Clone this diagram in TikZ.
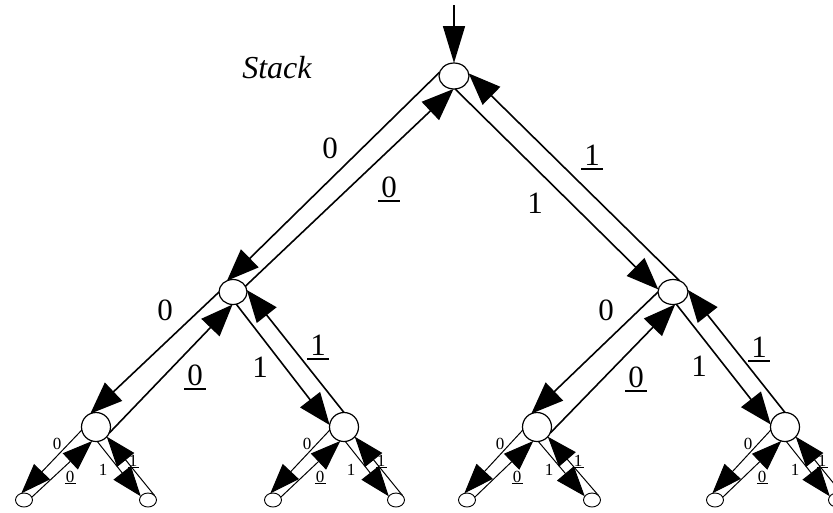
\documentclass[tikz,border=0pt]{standalone}
\usepackage{fontspec}
\setmainfont{Liberation Serif}
\usetikzlibrary{shapes.geometric,arrows.meta}
\newcommand{\ulbig}[1]{\setbox0\hbox{#1}\leavevmode\rlap{\kern-3pt\vrule width \dimexpr\wd0+6pt\relax height -3pt depth 4.5pt}\box0}
\newcommand{\ulsmall}[1]{\setbox0\hbox{#1}\leavevmode\rlap{\kern-1pt\vrule width \dimexpr\wd0+3pt\relax height -1pt depth 2pt}\box0}
\tikzset{
  nd/.style={draw, ellipse, line width=1.2pt, fill=white, inner sep=0pt, outer sep=0pt},
  lvl/.style={nd, minimum width=29pt, minimum height=29pt},
  lf/.style={nd, line width=0.9pt, minimum width=17pt, minimum height=14pt},
  thk/.style={line width=1.6pt, -{Triangle[length=32pt,width=25pt]}},
  thn/.style={line width=1pt, -{Triangle[length=30pt,width=22pt]}},
  lbl/.style={anchor=base, inner sep=0pt, font=\fontsize{31}{37}\selectfont},
  slbl/.style={anchor=base, inner sep=0pt, font=\fontsize{17}{20}\selectfont},
}
\begin{document}
\begin{tikzpicture}[x=1pt,y=-1pt]
\useasboundingbox (0,0) rectangle (833,512);
% nodes
\node[nd, minimum width=30pt, minimum height=26pt] (r) at (454,76) {};
\node[nd, minimum width=28pt, minimum height=25pt] (a) at (233,292) {};
\node[nd, minimum width=30pt, minimum height=25pt] (b) at (673,292) {};
\node[lvl] (aa) at (96,427) {};
\node[lvl] (ab) at (344,427) {};
\node[lvl] (ba) at (537,427) {};
\node[lvl] (bb) at (785,427) {};
\node[lf] (l1) at (24,500) {};
\node[lf] (l2) at (148,500) {};
\node[lf] (l3) at (273,500) {};
\node[lf] (l4) at (396,500) {};
\node[lf] (l5) at (467,500) {};
\node[lf] (l6) at (592,500) {};
\node[lf] (l7) at (715,500) {};
\node[lf] (l8) at (837,500) {};
% entry
\coordinate (top) at (454,5);
\draw[line width=1.6pt, -{Triangle[length=37pt,width=22pt]}] (top) -- (r.north);
% level 0 edges
\draw[thk] (r.165) -- (a.118);
\draw[thk] (a.25) -- (r.268);
\draw[thk] (r.275) -- (b.170);
\draw[thk] (b.60) -- (r.10);
% level 1 edges
\draw[thk] (a.180) -- (aa.113);
\draw[thk] (aa.-25) -- (a.268);
\draw[thk] (a.285) -- (ab.172);
\draw[thk] (ab.90) -- (a.8);
\draw[thk] (b.180) -- (ba.113);
\draw[thk] (ba.-25) -- (b.280);
\draw[thk] (b.285) -- (bb.170);
\draw[thk] (bb.90) -- (b.8);
% leaf edges
\foreach \n/\L/\R in {aa/l1/l2, ab/l3/l4, ba/l5/l6, bb/l7/l8} {
  \draw[thn] (\n.192) -- (\L.112);
  \draw[thn] (\L.20) -- (\n.255);
  \draw[thn] (\n.275) -- (\R.153);
  \draw[thn] (\R.34) -- (\n.318);
}
% title
\node[anchor=base, inner sep=0pt, font=\fontsize{32}{38}\selectfont\itshape] (title) at (277,78) {Stack};
% big labels
\node[lbl] (t1) at (330,158) {0};
\node[lbl] (t2) at (389,197) {\ulbig{0}};
\node[lbl] (t3) at (535,213) {1};
\node[lbl] (t4) at (592,165) {\ulbig{1}};
\node[lbl] (t5) at (165,320) {0};
\node[lbl] (t6) at (195,385) {\ulbig{0}};
\node[lbl] (t7) at (260,377) {1};
\node[lbl] (t8) at (318,355) {\ulbig{1}};
\node[lbl] (t9) at (606,320) {0};
\node[lbl] (t10) at (636,387) {\ulbig{0}};
\node[lbl] (t11) at (699,376) {1};
\node[lbl] (t12) at (759,357) {\ulbig{1}};
% small labels
\foreach \x [count=\i] in {57, 307, 500, 748} { \node[slbl] (s0\i) at (\x,449) {0}; }
\foreach \x [count=\i] in {70, 320, 517, 762} { \node[slbl] (s1\i) at (\x,482) {\ulsmall{0}}; }
\foreach \x [count=\i] in {103, 351, 549, 795} { \node[slbl] (s2\i) at (\x,475) {1}; }
\foreach \x [count=\i] in {133, 381, 578, 822} { \node[slbl] (s3\i) at (\x,466) {\ulsmall{1}}; }
\end{tikzpicture}
\end{document}
